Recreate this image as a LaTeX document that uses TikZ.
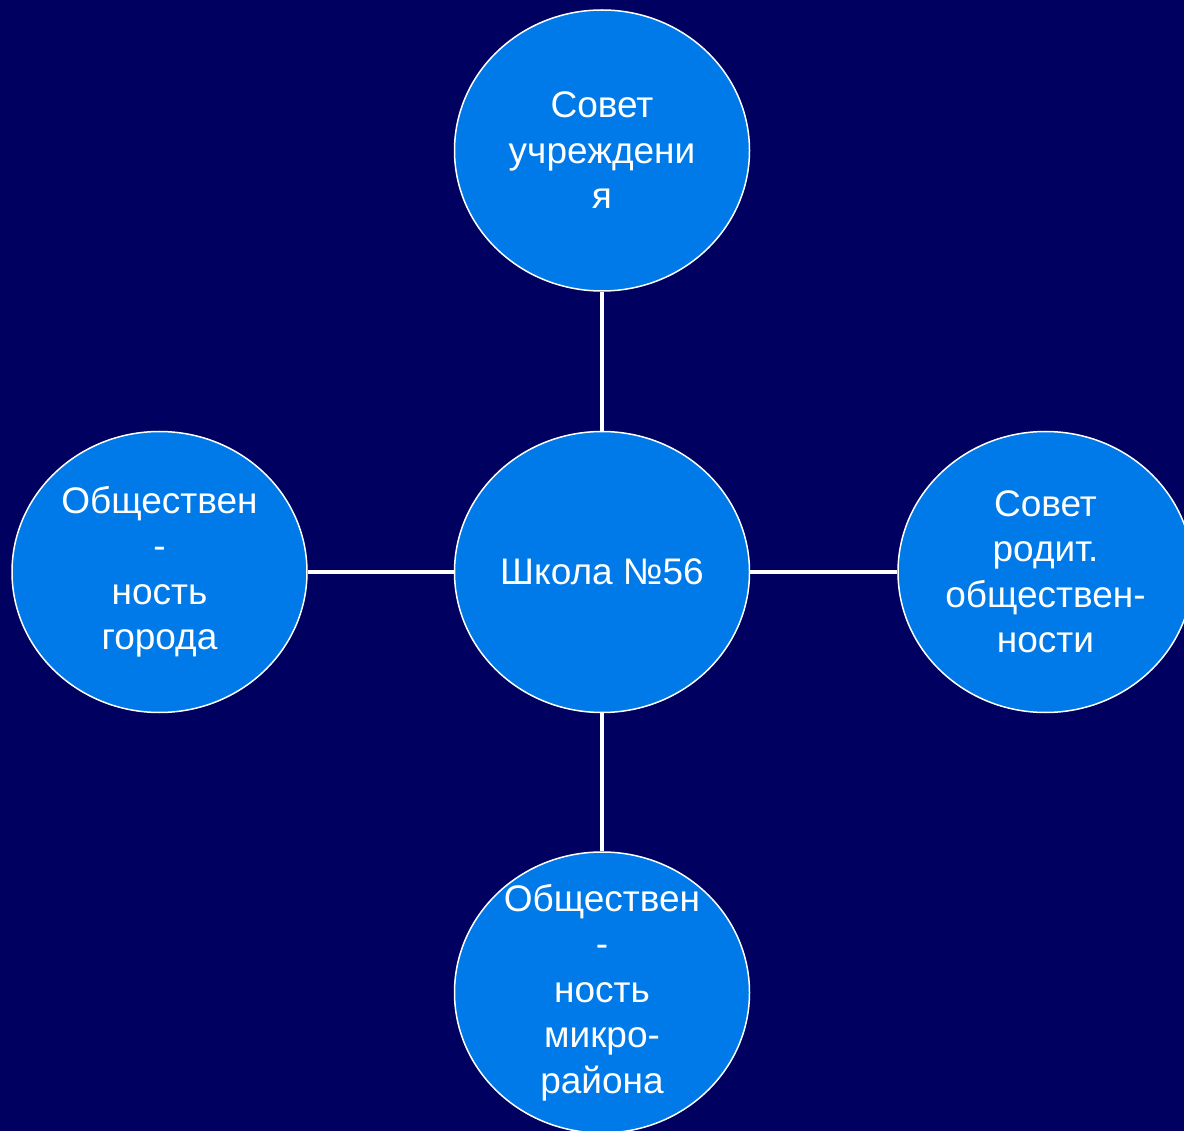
\documentclass[tikz,border=0pt]{standalone}
\usepackage{fontspec}
\setmainfont{Liberation Sans}
\usepackage{xcolor}
\usetikzlibrary{shapes.geometric, positioning}
\definecolor{navy}{RGB}{0,0,96}
\definecolor{bubble}{RGB}{0,122,232}

\begin{document}
\begin{tikzpicture}[
  circ/.style={ellipse, draw=white, line width=1.5pt, fill=bubble,
               minimum width=295pt, minimum height=281pt, inner sep=0pt},
  txt/.style={text=white, align=center, inner sep=0pt,
              font=\fontsize{37}{45.5}\selectfont},
  link/.style={white, line width=4.5pt},
  node distance=139pt and 146pt
]
\fill[navy] (0,0) rectangle (1184pt,-1131pt);
\useasboundingbox (0,0) rectangle (1184pt,-1131pt);

\node[circ, label={[txt]center:Школа №56}] (school) at (602pt,-572pt) {};
\node[circ, above=of school,
      label={[txt]center:Совет\\учреждени\\я}] (council) {};
\node[circ, left=of school,
      label={[txt]center:Обществен\\-\\ность\\города}] (city) {};
\node[circ, right=147pt of school,
      label={[txt]center:Совет\\родит.\\обществен-\\ности}] (parents) {};
\node[circ, below=138pt of school,
      label={[txt]center:Обществен\\-\\ность\\микро-\\района}] (district) {};

\draw[link] (school) -- (council);
\draw[link] (school) -- (city);
\draw[link] (school) -- (parents);
\draw[link] (school) -- (district);
\end{tikzpicture}
\end{document}
